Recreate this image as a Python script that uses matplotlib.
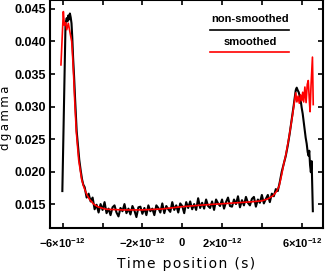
import matplotlib
matplotlib.use("Agg")
import matplotlib.pyplot as plt
from matplotlib.ticker import FixedLocator, FixedFormatter

plt.rcParams['mathtext.fontset'] = 'custom'
plt.rcParams['mathtext.rm'] = 'Liberation Sans'
plt.rcParams['mathtext.bf'] = 'Liberation Sans:bold'

# time in picoseconds, dgamma in units of 1e-4
black_t = [-6.02, -5.86, -5.80, -5.76, -5.72, -5.68, -5.64, -5.60, -5.56, -5.52, -5.48, -5.43,
           -5.38, -5.30, -5.24, -5.17, -5.10, -5.03, -4.97,
           -4.9, -4.8, -4.7, -4.6, -4.5, -4.4, -4.3, -4.2, -4.1, -4.0,
           -3.9, -3.8, -3.7, -3.6, -3.5, -3.4, -3.3, -3.2, -3.1, -3.0,
           -2.9, -2.8, -2.7, -2.6, -2.5, -2.4, -2.3, -2.2, -2.1, -2.0,
           -1.9, -1.8, -1.7, -1.6, -1.5, -1.4, -1.3, -1.2, -1.1, -1.0,
           -0.9, -0.8, -0.7, -0.6, -0.5, -0.4, -0.3, -0.2, -0.1, 0.0,
           0.1, 0.2, 0.3, 0.4, 0.5, 0.6, 0.7, 0.8, 0.9, 1.0,
           1.1, 1.2, 1.3, 1.4, 1.5, 1.6, 1.7, 1.8, 1.9, 2.0,
           2.1, 2.2, 2.3, 2.4, 2.5, 2.6, 2.7, 2.8, 2.9, 3.0,
           3.1, 3.2, 3.3, 3.4, 3.5, 3.6, 3.7, 3.8, 3.9, 4.0,
           4.1, 4.2, 4.3, 4.4, 4.5, 4.6, 4.7, 4.8, 4.9, 5.0,
           5.1, 5.2, 5.3, 5.4, 5.5, 5.6, 5.65, 5.70, 5.75, 5.80, 5.85, 5.90, 5.95,
           6.00, 6.05, 6.10, 6.15, 6.20, 6.25, 6.30, 6.35, 6.38, 6.42, 6.46, 6.50, 6.53, 6.56]
black_v = [170, 428, 436, 431, 440, 434, 443, 437, 428, 405, 375, 346,
           312, 262, 242, 218, 202, 188, 180,
           176, 160, 166, 154, 160, 142, 149, 137, 150, 141,
           153, 136, 143, 133, 145, 148, 137, 131, 144, 139,
           150, 136, 143, 134, 147, 140, 130, 145, 146, 135,
           144, 133, 148, 139, 143, 133, 148, 144, 137, 151,
           136, 147, 142, 138, 153, 141, 148, 137, 151, 147,
           136, 153, 144, 154, 142, 150, 141, 159, 144, 152,
           143, 157, 147, 144, 154, 141, 157, 151, 147, 157,
           143, 153, 160, 147, 146, 157, 150, 162, 145, 156,
           148, 161, 152, 148, 158, 161, 146, 157, 152, 164,
           151, 158, 164, 153, 166, 162, 173, 170, 184, 200,
           212, 224, 240, 259, 280, 302, 314, 325, 329, 325, 322, 316, 309,
           298, 289, 277, 266, 252, 243, 230, 224, 232, 210, 199, 216, 176, 139]

red_t = [-6.09, -5.97, -5.92, -5.85, -5.80, -5.72, -5.63, -5.55, -5.50, -5.45, -5.40,
         -5.32, -5.20, -5.05, -4.95, -4.80, -4.65, -4.45, -4.25, -4.0, -3.8,
         -3.0, -2.0, -1.0, 0.0, 1.0, 2.0, 3.0, 3.5, 4.0, 4.3, 4.57, 4.75, 4.87,
         5.0, 5.1, 5.2, 5.37, 5.53, 5.70, 5.76, 5.82, 5.88, 5.94, 6.00, 6.05, 6.10,
         6.16, 6.22, 6.28, 6.33, 6.38, 6.42, 6.47, 6.54, 6.58]
red_v = [364, 446, 425, 429, 418, 428, 413, 400, 375, 345, 310,
         262, 218, 188, 177, 165, 157, 150, 146, 143.5, 142,
         141, 141, 142.5, 146, 148.5, 150.5, 152.5, 153.5, 155, 158, 163, 170, 178,
         196, 212, 225, 254, 285, 321, 307, 316, 305, 318, 309, 322, 307,
         330, 306, 334, 340, 312, 292, 333, 376, 303]

xticks_ps = [-6, -4, -2, 0, 2, 4, 6]
xtick_labels = [r'$\mathbf{-6{\times}10^{-12}}$', '', r'$\mathbf{-2{\times}10^{-12}}$', r'$\mathbf{0}$',
                r'$\mathbf{2{\times}10^{-12}}$', '', r'$\mathbf{6{\times}10^{-12}}$']
yticks = [0.015, 0.020, 0.025, 0.030, 0.035, 0.040, 0.045]

fig = plt.figure(figsize=(3.27, 2.72), dpi=100)
ax = fig.add_axes([50/327, 1-228/272, 273/327, 228/272])

ax.plot([t*1e-12 for t in black_t], [v*1e-4 for v in black_v], color='black', lw=1.5)
ax.plot([t*1e-12 for t in red_t], [v*1e-4 for v in red_v], color='#ff0000', lw=1.2)

ax.set_xlim(-6.64e-12, 7.07e-12)
ax.set_ylim(0.01132, 0.04638)

ax.xaxis.set_major_locator(FixedLocator([t*1e-12 for t in xticks_ps]))
ax.xaxis.set_major_formatter(FixedFormatter(xtick_labels))
ax.set_yticks(yticks)
ax.set_yticklabels(['%.3f' % v for v in yticks])

ax.tick_params(direction='in', length=3.5, width=1.2, top=True, right=True, pad=3)
ax.tick_params(axis='x', pad=6)
for lab in ax.get_yticklabels():
    lab.set_fontfamily('Liberation Sans')
    lab.set_fontweight('bold')
    lab.set_fontsize(9)
for lab in ax.get_xticklabels():
    lab.set_fontsize(8)
for sp in ax.spines.values():
    sp.set_linewidth(1.5)

ax.set_xlabel('T\u200ai\u200am\u200ae\u2009 p\u200ao\u200as\u200ai\u200at\u200ai\u200ao\u200an\u2009 (\u200as\u200a)',
              fontsize=10, labelpad=5)
fig.text(5.5/327, 1-117.5/272, 'd\u2009g\u2009a\u2009m\u2009m\u2009a', rotation=90,
         ha='center', va='center', fontsize=8.5)

ax.text(0.733, 0.917, 'non-smoothed', transform=ax.transAxes, ha='center', va='center',
        fontsize=8, fontweight='bold', family='Liberation Sans')
ax.plot([0.586, 0.875], [0.868, 0.868], transform=ax.transAxes, color='black', lw=1.2)
ax.text(0.733, 0.817, 'smoothed', transform=ax.transAxes, ha='center', va='center',
        fontsize=8, fontweight='bold', family='Liberation Sans')
ax.plot([0.586, 0.875], [0.773, 0.773], transform=ax.transAxes, color='#ff0000', lw=1.2)

fig.savefig('out.png', dpi=100)
